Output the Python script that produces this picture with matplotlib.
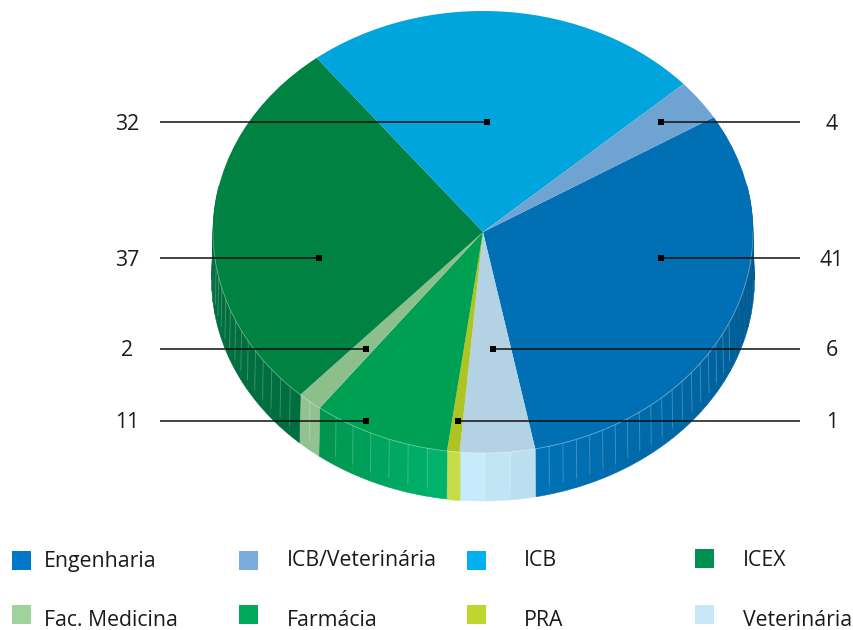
import numpy as np
import matplotlib
matplotlib.use("Agg")
import matplotlib.pyplot as plt
from matplotlib.collections import PolyCollection
from matplotlib.colors import to_rgb

plt.rcParams['font.family'] = ['Open Sans', 'DejaVu Sans']

# --- data (clockwise from the top right)
categories = ['Engenharia', 'Veterinária', 'PRA', 'Farmácia', 'Fac. Medicina', 'ICEX', 'ICB', 'ICB/Veterinária']
values = [41, 6, 1, 11, 2, 37, 32, 4]

# --- style
top_colors = ['#006fb3', '#b3d2e4', '#aec422', '#00a052', '#8dbf8d', '#008242', '#00a5de', '#6fa3d2']
wall_start = ['#005688', '#bcdff0', '#c8dc4a', '#00b26c', '#92c292', '#006e3f', '#0090c0', '#5f8fb8']
wall_end = ['#0071b6', '#c8ebfb', '#c8dc4a', '#00964f', '#92c292', '#006e3f', '#0090c0', '#5f8fb8']
facet_step = [3.0, 5.0, 5.0, 4.5, 2.5, 3.0, 3.0, 3.0]

legend_names = ['Engenharia', 'ICB/Veterinária', 'ICB', 'ICEX',
                'Fac. Medicina', 'Farmácia', 'PRA', 'Veterinária']
legend_colors = ['#0077c8', '#7aadde', '#00b0f0', '#009050',
                 '#a0d29b', '#00aa5a', '#bed72d', '#c6e8f9']
legend_box_xy = [(12, 551), (239, 551), (467, 551), (695, 549),
                 (12, 605), (239, 605), (467, 605), (695, 605)]
legend_text_xy = [(44, 561), (287, 561), (524, 561), (743, 561),
                  (44, 620), (287, 620), (524, 620), (743, 620)]

left_labels = ['32', '37', '2', '11']
right_labels = ['4', '41', '6', '1']
leader_y = [122, 258, 349, 421]
left_marker_x = [487, 319, 366, 366]
right_marker_x = [661, 661, 493, 458]

CX, CY, RX, RY = 483.0, 232.0, 270.0, 221.0
DEPTH = 48.0 / RY
START = 31.3

W, H = 854, 630
fig = plt.figure(figsize=(W / 100, H / 100), dpi=100)
ax = fig.add_axes([0, 0, 1, 1])
wedges, _ = ax.pie(values, colors=top_colors, startangle=START, counterclock=False,
                   radius=1.0, wedgeprops=dict(linewidth=0))
for w in wedges:
    w.set_zorder(3)
ax.set_aspect('auto')
ax.set_xlim((0 - CX) / RX, (W - CX) / RX)
ax.set_ylim((CY - H) / RY, CY / RY)
ax.axis('off')

# side wall facets, derived from the slice angles
scale = np.cumsum([0] + values) / sum(values) * 360.0
for i in range(len(values)):
    a0, a1 = START - scale[i], START - scale[i + 1]
    lo = max(a1, -192.0)
    hi = min(a0, 12.0)
    if lo >= hi:
        continue
    n = max(1, int(round((hi - lo) / facet_step[i])))
    edges = np.linspace(hi, lo, n + 1)
    polys, cols = [], []
    c0, c1 = np.array(to_rgb(wall_start[i])), np.array(to_rgb(wall_end[i]))
    for k in range(n):
        t = np.radians(np.linspace(edges[k], edges[k + 1], 5))
        top = np.c_[np.cos(t), np.sin(t)]
        bot = np.c_[1.005 * np.cos(t[::-1]), np.sin(t[::-1]) - DEPTH]
        polys.append(np.vstack([top, bot]))
        f = k / max(1, n - 1)
        cols.append(tuple(c0 + (c1 - c0) * f))
    ax.add_collection(PolyCollection(polys, facecolors=cols, edgecolors=cols,
                                     linewidths=0.4, zorder=1))
    for e in edges[1:-1]:
        if e > -22 or e < -172:
            continue
        r = np.radians(e)
        ax.plot([np.cos(r), 1.003 * np.cos(r)],
                [np.sin(r), np.sin(r) - DEPTH * 0.8],
                color='white', alpha=0.2, lw=0.7, zorder=2)

# pale rim along the front edge of the top
rim = np.radians(np.linspace(0, -180, 300))
ax.plot(np.cos(rim), np.sin(rim), color='white', alpha=0.3, lw=0.7, zorder=4)

# overlay in pixel coordinates
ov = fig.add_axes([0, 0, 1, 1])
ov.set_xlim(0, W)
ov.set_ylim(H, 0)
ov.axis('off')
ov.patch.set_alpha(0)

for y, lab, x in zip(leader_y, left_labels, left_marker_x):
    ov.plot([160, x], [y, y], color='#111111', lw=1.1, zorder=5, solid_capstyle='butt')
    ov.plot([x], [y], marker='s', ms=4.4, color='black', mew=0, zorder=6)
    ov.text(127.5, y + 2, lab, ha='center', va='center', fontsize=15.3, color='#1a1a1a')
for y, lab, x in zip(leader_y, right_labels, right_marker_x):
    ov.plot([x, 800], [y, y], color='#111111', lw=1.1, zorder=5, solid_capstyle='butt')
    ov.plot([x], [y], marker='s', ms=4.4, color='black', mew=0, zorder=6)
    ov.text(832, y + 2, lab, ha='center', va='center', fontsize=15.3, color='#1a1a1a')

for name, col, (bx, by), (tx, ty) in zip(legend_names, legend_colors, legend_box_xy, legend_text_xy):
    ov.add_patch(plt.Rectangle((bx, by), 19, 19, facecolor=col, edgecolor='none'))
    ov.text(tx, ty, name, ha='left', va='center', fontsize=15.3, color='#1a1a1a')

fig.savefig('out.png', dpi=100)
